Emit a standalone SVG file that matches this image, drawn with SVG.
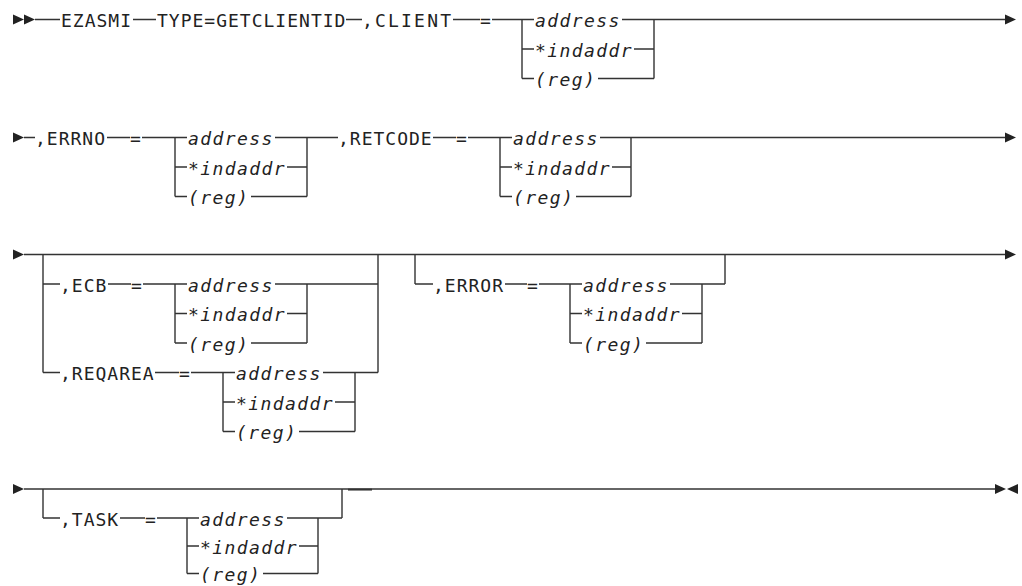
<svg xmlns="http://www.w3.org/2000/svg" xmlns:xlink="http://www.w3.org/1999/xlink" width="1022" height="586" viewBox="0 0 1022 586">
<style>
.t{font-family:"DejaVu Sans Mono",monospace;font-size:18px;letter-spacing:1px;fill:#222}
.i{font-style:italic;letter-spacing:1.4px}
.ln{fill:none;stroke:#333;stroke-width:1.4}
.ah{fill:#222}
</style>
<defs>
<path id="triR" d="M0,-5 L11,0 L0,5 Z"/>
<path id="triL" d="M11,-5 L0,0 L11,5 Z"/>
</defs>
<rect width="1022" height="586" fill="#fff"/>
<g id="connectors" class="ln">
<!-- row 1 -->
<path d="M35,19.5H60 M133,19.5H156 M346,19.5H362 M453,19.5H480 M492,19.5H534"/>
<path d="M522,19.5V78.5 M522,49H534 M522,78.5H534 M622,19.5H1005 M634,49H654 M598,78.5H654 M654,19.5V78.5"/>
<!-- row 2 -->
<path d="M24,137.5H35 M107,137.5H130 M142,137.5H187"/>
<path d="M175,137.5V196.5 M175,167H187 M175,196.5H187 M275,137.5H338 M287,167H307 M251,196.5H307 M307,137.5V196.5"/>
<path d="M433,137.5H456 M468,137.5H512"/>
<path d="M500,137.5V196.5 M500,167H512 M500,196.5H512 M600,137.5H1005 M612,167H631 M576,196.5H631 M631,137.5V196.5"/>
<!-- row 3 -->
<path d="M24,254.5H1005"/>
<path d="M43,254.5V372.5 M378,254.5V372.5"/>
<path d="M43,284H60 M108,284H131 M143,284H187"/>
<path d="M175,284V343 M175,313.5H187 M175,343H187 M275,284H378 M287,313.5H307 M251,343H307 M307,284V343"/>
<path d="M43,372.5H60 M155,372.5H179 M191,372.5H235"/>
<path d="M223,372.5V431.5 M223,402H235 M223,431.5H235 M323,372.5H378 M335,402H355 M299,431.5H355 M355,372.5V431.5"/>
<path d="M415,254.5V284 M725,254.5V284"/>
<path d="M415,284H433 M505,284H527 M539,284H582"/>
<path d="M570,284V343 M570,313.5H582 M570,343H582 M670,284H725 M682,313.5H702 M646,343H702 M702,284V343"/>
<!-- row 4 -->
<path d="M24,489H995"/>
<path d="M348,489.6H372" stroke-width="1.9"/>
<path d="M43,489V518 M342,489V518"/>
<path d="M43,518H60 M120,518H145 M157,518H199"/>
<path d="M187,518V573.5 M187,546H199 M187,573.5H199 M287,518H342 M299,546H318 M263,573.5H318 M318,518V573.5"/>
</g>
<g id="arrows" class="ah">
<use xlink:href="#triR" x="13" y="19.5"/>
<use xlink:href="#triR" x="24" y="19.5"/>
<use xlink:href="#triR" x="1005" y="19.5"/>
<use xlink:href="#triR" x="13" y="137.5"/>
<use xlink:href="#triR" x="1005" y="137.5"/>
<use xlink:href="#triR" x="13" y="254.5"/>
<use xlink:href="#triR" x="1005" y="254.5"/>
<use xlink:href="#triR" x="13" y="489"/>
<use xlink:href="#triR" x="995" y="489"/>
<use xlink:href="#triL" x="1007" y="489"/>
</g>
<g id="n-ezasmi" class="t"><text x="61" y="27">EZASMI</text></g>
<g id="n-type" class="t"><text x="157" y="27">TYPE=GETCLIENTID</text></g>
<g id="n-client" class="t"><text x="362" y="27" textLength="90" lengthAdjust="spacing">,CLIENT</text><text x="480" y="27">=</text></g>
<g id="n-client-val" class="t i"><text x="535" y="27">address</text><text x="535" y="56.5">*indaddr</text><text x="535" y="86">(reg)</text></g>
<g id="n-errno" class="t"><text x="35" y="145">,ERRNO</text><text x="130" y="145">=</text></g>
<g id="n-errno-val" class="t i"><text x="188" y="145">address</text><text x="188" y="174.5">*indaddr</text><text x="188" y="204">(reg)</text></g>
<g id="n-retcode" class="t"><text x="338" y="145">,RETCODE</text><text x="456" y="145">=</text></g>
<g id="n-retcode-val" class="t i"><text x="513" y="145">address</text><text x="513" y="174.5">*indaddr</text><text x="513" y="204">(reg)</text></g>
<g id="n-ecb" class="t"><text x="60" y="291.5">,ECB</text><text x="131" y="291.5">=</text></g>
<g id="n-ecb-val" class="t i"><text x="188" y="291.5">address</text><text x="188" y="321">*indaddr</text><text x="188" y="350.5">(reg)</text></g>
<g id="n-reqarea" class="t"><text x="60" y="380">,REQAREA</text><text x="179" y="380">=</text></g>
<g id="n-reqarea-val" class="t i"><text x="236" y="380">address</text><text x="236" y="409.5">*indaddr</text><text x="236" y="439">(reg)</text></g>
<g id="n-error" class="t"><text x="433" y="291.5">,ERROR</text><text x="527" y="291.5">=</text></g>
<g id="n-error-val" class="t i"><text x="583" y="291.5">address</text><text x="583" y="321">*indaddr</text><text x="583" y="350.5">(reg)</text></g>
<g id="n-task" class="t"><text x="60" y="525.5">,TASK</text><text x="145" y="525.5">=</text></g>
<g id="n-task-val" class="t i"><text x="200" y="525.5">address</text><text x="200" y="553.5">*indaddr</text><text x="200" y="581">(reg)</text></g>
</svg>
